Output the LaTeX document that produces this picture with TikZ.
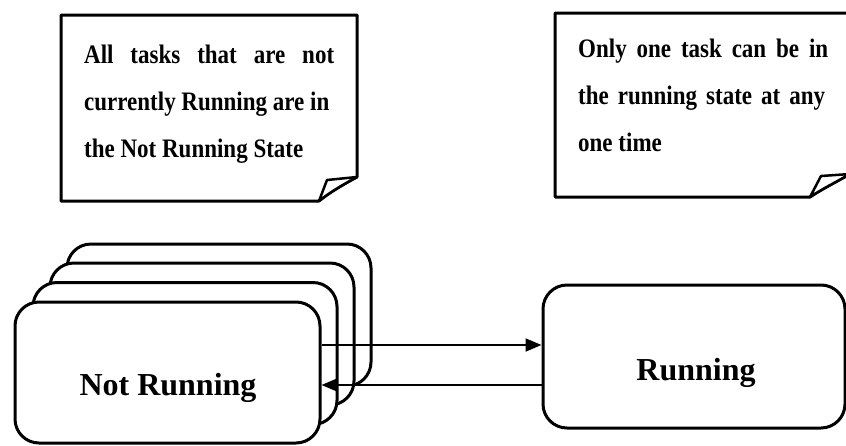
\documentclass[tikz,border=0pt]{standalone}
\usepackage{graphicx}
\usepackage{fontspec}
\setmainfont{Liberation Serif}
\usetikzlibrary{arrows.meta,calc}

% note lines are set a little taller than the regular face
\newcommand{\tallline}[1]{\scalebox{1}[1.16]{#1}}

\tikzset{
  statebox/.style={draw=black, line width=3pt, fill=white, rounded corners=24pt,
    inner sep=0pt, line join=round},
  notepage/.style={draw=black, line width=3pt, fill=white, line join=round},
  noteline/.style={anchor=base west, inner sep=0pt,
    font=\fontsize{23}{23}\selectfont\bfseries},
  statelabel/.style={anchor=base, inner sep=0pt,
    font=\fontsize{32}{32}\selectfont\bfseries},
  flow/.style={draw=black, line width=2pt,
    -{Triangle[length=16pt,width=13pt]}},
}

\begin{document}
\begin{tikzpicture}[x=1pt,y=-1pt]
\useasboundingbox (0,0) rectangle (846,445);

% ---- note: tasks not running ----
\draw[notepage] (61,15) -- (357,15) -- (357,177)
   .. controls (344,184) and (330,192) .. (319,201) -- (61,201) -- cycle;
\draw[notepage, line width=2.5pt] (319,201) -- (327,180) -- (357,177)
   .. controls (344,184) and (330,192) .. cycle;
\node[noteline] (la) at (84,63) {\tallline{\makebox[250pt][s]{All tasks that are not}}};
\node[noteline] (lb) at (84,110) {\tallline{currently Running are in}};
\node[noteline] (lc) at (84,157) {\tallline{the Not Running State}};

% ---- note: one running task ----
\draw[notepage] (555,13) -- (850,13) -- (850,174)
   .. controls (836,182) and (822,189) .. (810,197) -- (555,197) -- cycle;
\draw[notepage, line width=2.5pt] (810,197) -- (821,176) -- (850,174)
   .. controls (836,182) and (822,189) .. cycle;
\node[noteline] (ra) at (578,57) {\tallline{\makebox[250pt][s]{Only one task can be in}}};
\node[noteline] (rb) at (578,104) {\tallline{\makebox[247pt][s]{the running state at any}}};
\node[noteline] (rc) at (578,151) {\tallline{one time}};

% ---- stack of not-running tasks, back to front ----
\node[statebox, minimum width=304pt, minimum height=142pt] (b4) at (219,315) {};
\node[statebox, minimum width=304pt, minimum height=142pt] (b3) at (202,334) {};
\node[statebox, minimum width=304pt, minimum height=142pt] (b2) at (185,353.5) {};
\node[statebox, minimum width=305pt, minimum height=141pt] (front) at (167.5,372.5) {};
\node[statelabel] (frontlbl) at (168,395) {Not Running};

% ---- running task ----
\node[statebox, minimum width=302pt, minimum height=143pt] (run) at (694,356.5) {};
\node[statelabel] (runlbl) at (696,380) {Running};

% ---- transitions ----
\coordinate (ya) at (0,345);
\coordinate (yb) at (0,385);
\draw[flow] (front.east |- ya) -- (run.west |- ya);
\draw[flow] (run.west |- yb) -- (front.east |- yb);
\end{tikzpicture}
\end{document}
